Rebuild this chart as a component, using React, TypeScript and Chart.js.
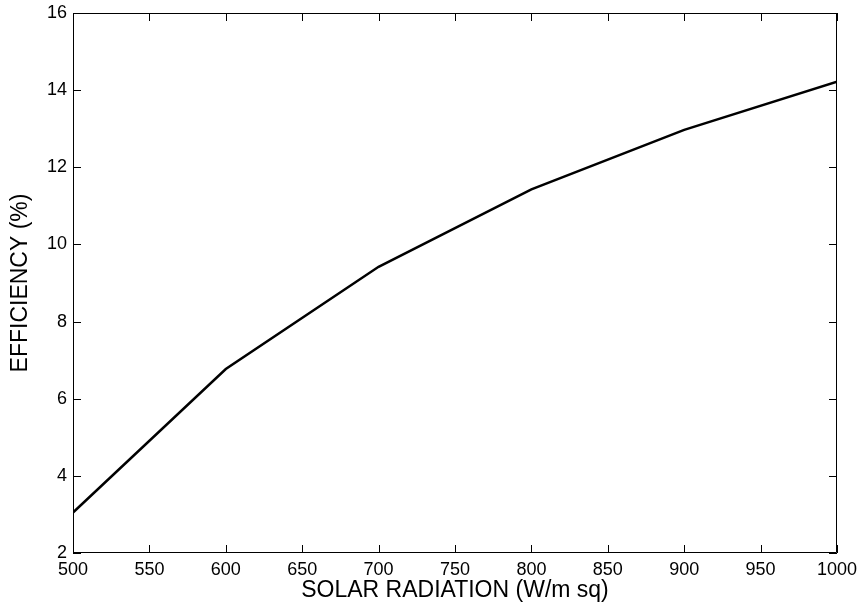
import React, { useEffect, useRef } from "react";
import { Chart, registerables } from "chart.js";

Chart.register(...registerables);

const radiation = [500, 600, 700, 800, 900, 1000];
const efficiency = [3.05, 6.77, 9.42, 11.43, 12.97, 14.22];
const xTicks = [500, 550, 600, 650, 700, 750, 800, 850, 900, 950, 1000];
const yTicks = [2, 4, 6, 8, 10, 12, 14, 16];
const xTitle = "SOLAR RADIATION (W/m sq)";
const yTitle = "EFFICIENCY (%)";

const FONT = "'Liberation Sans', Arial, sans-serif";

const frameTicks = {
  id: "frameTicks",
  afterDatasetsDraw(chart: any) {
    const { ctx, chartArea } = chart;
    const { left, right, top, bottom } = chartArea;
    const xs = chart.scales.x;
    const ys = chart.scales.y;
    const len = 8;
    ctx.save();
    ctx.strokeStyle = "#000";
    ctx.lineWidth = 1;
    ctx.beginPath();
    ctx.rect(left + 0.5, top + 0.5, right - left - 1, bottom - top - 1);
    ctx.stroke();
    ctx.beginPath();
    for (const v of xTicks) {
      const px = Math.round(xs.getPixelForValue(v)) + 0.5;
      ctx.moveTo(px, bottom);
      ctx.lineTo(px, bottom - len);
      ctx.moveTo(px, top);
      ctx.lineTo(px, top + len);
    }
    for (const v of yTicks) {
      const py = Math.round(ys.getPixelForValue(v)) + 0.5;
      ctx.moveTo(left, py);
      ctx.lineTo(left + len, py);
      ctx.moveTo(right, py);
      ctx.lineTo(right - len, py);
    }
    ctx.stroke();
    ctx.restore();
  },
};

export default function App() {
  const ref = useRef<HTMLCanvasElement | null>(null);
  useEffect(() => {
    if (!ref.current) return;
    const chart = new Chart(ref.current, {
      type: "line",
      data: {
        datasets: [
          {
            data: radiation.map((x, i) => ({ x, y: efficiency[i] })),
            borderColor: "#000",
            borderWidth: 2.5,
            pointRadius: 0,
            tension: 0,
            fill: false,
          },
        ],
      },
      options: {
        animation: false,
        responsive: false,
        maintainAspectRatio: false,
        layout: { padding: { top: 13, right: 22, left: 0, bottom: 0 } },
        plugins: { legend: { display: false }, tooltip: { enabled: false } },
        scales: {
          x: {
            type: "linear",
            min: 500,
            max: 1000,
            afterBuildTicks: (s: any) => {
              s.ticks = xTicks.map((v) => ({ value: v }));
            },
            afterFit: (s: any) => {
              s.height = 52;
              s.paddingLeft = 0;
              s.paddingRight = 0;
            },
            grid: { display: false, drawTicks: false },
            border: { display: false },
            ticks: {
              autoSkip: false,
              maxRotation: 0,
              padding: 6,
              color: "#000",
              font: { family: FONT, size: 18 },
              callback: (v: any) => String(v),
            },
            title: {
              display: true,
              text: xTitle,
              color: "#000",
              font: { family: FONT, size: 23 },
              padding: { top: 0, bottom: 1 },
            },
          },
          y: {
            type: "linear",
            min: 2,
            max: 16,
            afterBuildTicks: (s: any) => {
              s.ticks = yTicks.map((v) => ({ value: v }));
            },
            afterFit: (s: any) => {
              s.width = 73;
              s.paddingTop = 0;
              s.paddingBottom = 0;
            },
            grid: { display: false, drawTicks: false },
            border: { display: false },
            ticks: {
              autoSkip: false,
              padding: 6,
              color: "#000",
              font: { family: FONT, size: 18 },
              callback: (v: any) => String(v),
            },
            title: {
              display: true,
              text: yTitle,
              color: "#000",
              font: { family: FONT, size: 23 },
              padding: { top: 7, bottom: 0 },
            },
          },
        },
      },
      plugins: [frameTicks],
    });
    return () => chart.destroy();
  }, []);
  return (
    <div style={{ position: "fixed", left: 0, top: 0, width: 859, height: 605, background: "#fff" }}>
      <canvas ref={ref} width={859} height={605} style={{ width: 859, height: 605, display: "block" }} />
    </div>
  );
}
